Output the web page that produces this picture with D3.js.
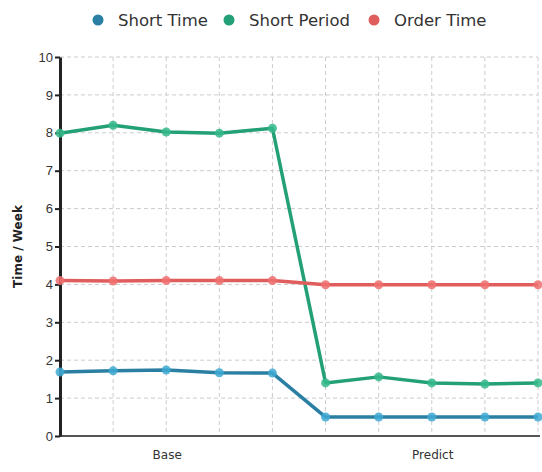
<!DOCTYPE html>
<html lang="en">
<head>
  <meta charset="UTF-8">
  <title>Time / Week</title>
  <style>
    body { margin: 0; background: #fff; }
    svg { font-family: "DejaVu Sans", Verdana, sans-serif; }
    .grid line { stroke: #ccc; stroke-dasharray: 4 3; }
    .tick text { fill: #333; }
  </style>
</head>
<body>
  <svg id="chart" width="542" height="472"></svg>
  <script src="https://d3js.org/d3.v7.min.js"></script>
  <script>
    // data
    const points = ['b1', 'b2', 'b3', 'b4', 'b5', 'p1', 'p2', 'p3', 'p4', 'p5']
    const groups = [
      {name: 'Base', from: 'b1', to: 'b5'},
      {name: 'Predict', from: 'p1', to: 'p5'}
    ]
    const seriesNames = ['Short Time', 'Short Period', 'Order Time']
    const shortTime = [1.69, 1.72, 1.74, 1.67, 1.66, 0.5, 0.5, 0.5, 0.5, 0.5]
    const shortPeriod = [7.99, 8.2, 8.02, 7.99, 8.12, 1.4, 1.56, 1.4, 1.37, 1.4]
    const orderTime = [4.1, 4.09, 4.1, 4.1, 4.1, 3.99, 3.99, 3.99, 3.99, 3.99]
    const yTicks = [0, 1, 2, 3, 4, 5, 6, 7, 8, 9, 10]

    const colors = ['#2a7fa3', '#23a077', '#e05d5d']
    const dotColors = ['#3fa9d3', '#35b88a', '#ee7070']
    const seriesValues = [shortTime, shortPeriod, orderTime]

    const svg = d3.select('#chart')
    const mLeft = 60, mRight = 538, mTop = 57, mBottom = 436

    const x = d3.scalePoint().domain(points).range([mLeft, mRight])
    const y = d3.scaleLinear().domain([0, 10]).range([mBottom, mTop])

    // grid
    const grid = svg.append('g').attr('class', 'grid')
    grid.selectAll('.h').data(yTicks.filter(d => d > 0)).enter().append('line')
      .attr('x1', mLeft).attr('x2', mRight)
      .attr('y1', d => y(d)).attr('y2', d => y(d))
    grid.selectAll('.v').data(points.slice(1)).enter().append('line')
      .attr('x1', d => x(d)).attr('x2', d => x(d))
      .attr('y1', mTop).attr('y2', mBottom)

    // x axis
    svg.append('line')
      .attr('x1', mLeft).attr('x2', mRight + 2)
      .attr('y1', mBottom).attr('y2', mBottom)
      .attr('stroke', '#555').attr('stroke-width', 2)
    svg.selectAll('.group').data(groups).enter().append('text')
      .attr('x', d => (x(d.from) + x(d.to)) / 2 + 1)
      .attr('y', 459)
      .attr('text-anchor', 'middle')
      .attr('font-size', 12)
      .attr('fill', '#333')
      .text(d => d.name)

    // y axis
    const yAxis = svg.append('g')
      .attr('transform', `translate(${mLeft},0)`)
      .call(d3.axisLeft(y).tickValues(yTicks).tickSize(5).tickPadding(2).tickSizeOuter(0))
    yAxis.select('.domain').attr('stroke', '#222').attr('stroke-width', 3)
    yAxis.selectAll('.tick line').attr('stroke', '#222').attr('stroke-width', 2)
    yAxis.selectAll('.tick text').attr('font-size', 13)

    svg.append('text')
      .attr('transform', `translate(22,${(mTop + mBottom) / 2}) rotate(-90)`)
      .attr('text-anchor', 'middle')
      .attr('font-size', 12)
      .attr('font-weight', 'bold')
      .attr('fill', '#222')
      .text('Time / Week')

    // lines
    const line = d3.line().x((d, i) => x(points[i])).y(d => y(d))
    seriesValues.forEach((vals, s) => {
      const g = svg.append('g')
      g.append('path')
        .attr('d', line(vals))
        .attr('fill', 'none')
        .attr('stroke', colors[s])
        .attr('stroke-width', 3.5)
        .attr('stroke-linejoin', 'round')
      g.selectAll('circle').data(vals).enter().append('circle')
        .attr('cx', (d, i) => x(points[i]))
        .attr('cy', d => y(d))
        .attr('r', 4.5)
        .attr('fill', dotColors[s])
        .attr('fill-opacity', 0.85)
    })

    // legend
    const legendX = [98, 229, 374]
    const legend = svg.selectAll('.legend').data(seriesNames).enter().append('g')
      .attr('transform', (d, i) => `translate(${legendX[i]},20)`)
    legend.append('circle').attr('r', 5.5).attr('fill', (d, i) => colors[i])
    legend.append('text')
      .attr('x', 20).attr('y', 6)
      .attr('font-size', 16.5)
      .attr('fill', '#333')
      .text(d => d)
  </script>
</body>
</html>
